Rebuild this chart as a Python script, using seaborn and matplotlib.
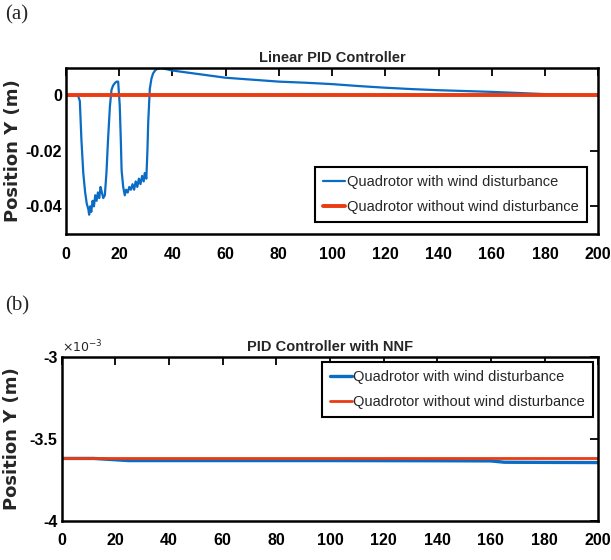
import seaborn as sns
import matplotlib.pyplot as plt
import matplotlib.ticker as mticker
import pandas as pd
import numpy as np

sns.set_theme(style='white')
plt.rcParams['font.family'] = ['Liberation Sans', 'DejaVu Sans']

### data
# (a) linear PID, y in m
t_wind_a = [0, 4.5, 5.2, 5.8, 6.5, 7.2, 7.8, 8.4, 8.7, 9.1, 9.5, 10.0, 10.5, 11.0, 11.5, 12.0,
            12.5, 13.0, 13.5, 14.0, 14.6, 15.2, 15.8, 16.5, 17.1, 17.7, 18.4, 19.0, 19.6, 20.2,
            20.6, 20.9, 21.5, 22.1, 22.6, 23.2, 23.8, 24.4, 25.0, 25.6, 26.2, 26.8, 27.4, 28.0,
            28.6, 29.2, 29.6, 30.2, 30.6, 30.9, 31.5, 32.1, 32.7, 33.6, 34.6, 36.0, 37.7,
            40, 50, 60, 70, 80, 90, 100, 110, 120, 130, 140, 150, 160, 170, 180, 190, 200]
y_wind_a = [0, 0, -0.002, -0.016, -0.028, -0.035, -0.039, -0.041, -0.043, -0.040, -0.042, -0.038,
            -0.040, -0.036, -0.038, -0.035, -0.037, -0.033, -0.035, -0.037, -0.036, -0.028, -0.016,
            -0.004, 0.002, 0.0036, 0.0045, 0.005, 0.005, -0.0036, -0.016, -0.027, -0.033, -0.036,
            -0.034, -0.035, -0.033, -0.034, -0.032, -0.034, -0.031, -0.033, -0.030, -0.032, -0.029,
            -0.031, -0.028, -0.030, -0.020, -0.0097, 0.0024, 0.0060, 0.0079, 0.0092, 0.0097, 0.0098,
            0.0095, 0.0090, 0.0077, 0.0064, 0.0057, 0.0050, 0.0046, 0.0041, 0.0034, 0.0028, 0.0023,
            0.0019, 0.0016, 0.0013, 0.0009, 0.0005, 0.0002, 0.0]
t_calm_a = [0, 200]
y_calm_a = [0, 0]

# (b) PID with NNF, y in m
t_wind_b = [0, 12, 25, 60, 100, 140, 160, 165, 180, 200]
y_wind_b = [-3.62e-3, -3.62e-3, -3.633e-3, -3.633e-3, -3.633e-3, -3.634e-3, -3.635e-3,
            -3.643e-3, -3.644e-3, -3.645e-3]
t_calm_b = [0, 200]
y_calm_b = [-3.618e-3, -3.618e-3]

labels = ['Quadrotor with wind disturbance', 'Quadrotor without wind disturbance']
blue = '#0a6cc4'
red = '#ea3b12'

fig = plt.figure(figsize=(6.11, 5.60), dpi=100)
ax1 = fig.add_axes([0.108, 0.582, 0.871, 0.297])
ax2 = fig.add_axes([0.101, 0.070, 0.878, 0.293])

sns.lineplot(x=t_wind_a, y=y_wind_a, ax=ax1, color=blue, lw=1.6, label=labels[0])
sns.lineplot(x=t_calm_a, y=y_calm_a, ax=ax1, color=red, lw=2.8, label=labels[1])
sns.lineplot(x=t_wind_b, y=y_wind_b, ax=ax2, color=blue, lw=2.4, label=labels[0])
sns.lineplot(x=t_calm_b, y=y_calm_b, ax=ax2, color=red, lw=2.0, label=labels[1])

ax1.set_ylim(-0.05, 0.01)
ax1.set_yticks([-0.04, -0.02, 0])
ax1.yaxis.set_major_formatter(mticker.FuncFormatter(lambda v, p: '0' if abs(v) < 1e-9 else f'{v:g}'))
ax2.set_ylim(-4e-3, -3e-3)
ax2.set_yticks([-4e-3, -3.5e-3, -3e-3])
ax2.yaxis.set_major_formatter(mticker.FuncFormatter(lambda v, p: f'{v*1e3:g}'))

for ax in (ax1, ax2):
    ax.set_xlim(0, 200)
    ax.set_xticks(range(0, 201, 20))
    ax.tick_params(direction='in', top=True, right=True, length=6, width=1.3,
                   labelsize=11.5, colors='black')
    ax.tick_params(axis='x', pad=9)
    ax.tick_params(axis='y', pad=3)
    for lab in ax.get_xticklabels() + ax.get_yticklabels():
        lab.set_fontweight('bold')
    for s in ax.spines.values():
        s.set_color('black')
        s.set_linewidth(1.8)
    ax.set_ylabel('Position Y (m)', family='DejaVu Sans', fontweight='bold', fontsize=13)
    ax.set_xlabel('')

ax1.yaxis.set_label_coords(-0.083, 0.5)
ax2.yaxis.set_label_coords(-0.075, 0.5)

ax1.set_title('Linear PID Controller', fontsize=10.5, fontweight='bold', pad=4)
ax2.set_title('PID Controller with NNF', fontsize=10.5, fontweight='bold', pad=4)
ax2.text(0.0, 1.01, r'$\times10^{-3}$', transform=ax2.transAxes, fontsize=9, va='bottom')

leg1 = ax1.legend(loc='lower right', fontsize=10.5, frameon=True, fancybox=False,
                  framealpha=1, edgecolor='black', borderpad=0.55, handlelength=1.5,
                  handletextpad=0.1, labelspacing=0.75, borderaxespad=0.8)
leg2 = ax2.legend(loc='upper right', fontsize=10.5, frameon=True, fancybox=False,
                  framealpha=1, edgecolor='black', borderpad=0.55, handlelength=1.5,
                  handletextpad=0.1, labelspacing=0.75, borderaxespad=0.35)
for leg in (leg1, leg2):
    leg.get_frame().set_linewidth(1.5)

fig.text(0.008, 0.965, '(a)', family=['Liberation Serif', 'DejaVu Serif'], fontsize=15)
fig.text(0.008, 0.445, '(b)', family=['Liberation Serif', 'DejaVu Serif'], fontsize=15)

fig.savefig('out.png', dpi=100)
